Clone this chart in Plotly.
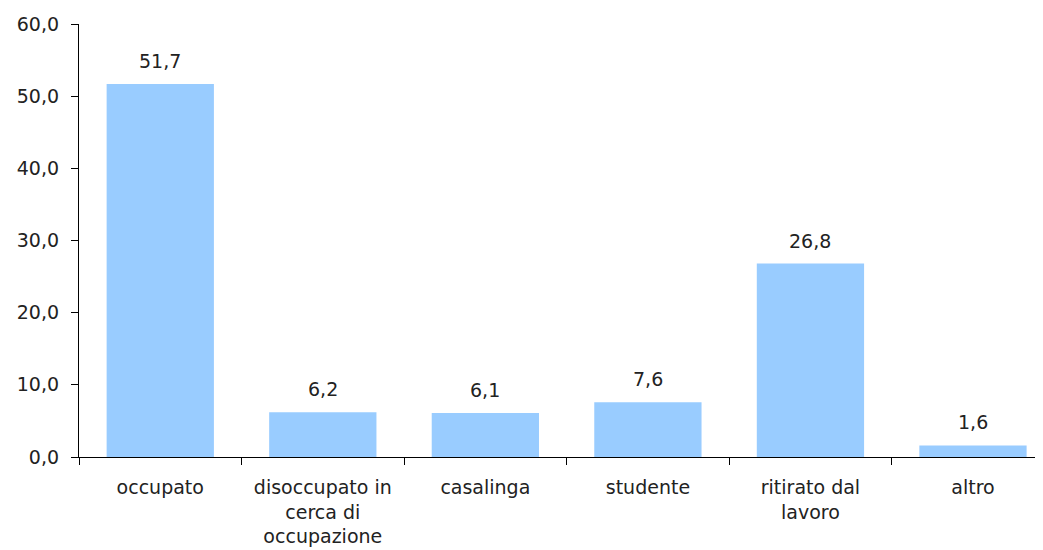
import plotly.graph_objects as go

categories = ["occupato", "disoccupato in<br>cerca di<br>occupazione", "casalinga",
              "studente", "ritirato dal<br>lavoro", "altro"]
values = [51.7, 6.2, 6.1, 7.6, 26.8, 1.6]
y_ticks = [0, 10, 20, 30, 40, 50, 60]

FONT = "DejaVu Sans, Verdana, sans-serif"
TXT = "#222222"
FS = 19

fig = go.Figure()
fig.add_trace(go.Bar(
    x=categories, y=values,
    marker=dict(color="#99CCFF", line=dict(width=0)),
    width=0.66,
    hoverinfo="skip",
))

for c, v in zip(categories, values):
    fig.add_annotation(x=c, y=v, text=f"{v:.1f}".replace(".", ","),
                       showarrow=False, yanchor="bottom", yshift=10,
                       font=dict(family=FONT, size=FS, color=TXT))

fig.update_layout(
    width=1043, height=550,
    margin=dict(l=71, r=0, t=16, b=101),
    paper_bgcolor="white", plot_bgcolor="white",
    separators=",.",
    showlegend=False,
    font=dict(family=FONT, size=FS, color=TXT),
    bargap=0.34,
)
fig.update_xaxes(
    type="category",
    range=[-0.5, 5.48],
    showline=True, linecolor="#000000", linewidth=1.3,
    ticks="outside", ticklen=7, tickcolor="#000000", tickwidth=1.3,
    tickson="boundaries",
    ticklabelstandoff=13,
    showgrid=False, zeroline=False,
    tickfont=dict(family=FONT, size=FS, color=TXT),
)
fig.update_yaxes(
    range=[0, 60],
    tickvals=y_ticks, tickformat=".1f",
    showline=True, linecolor="#000000", linewidth=1.3,
    ticks="outside", ticklen=7, tickcolor="#000000", tickwidth=1.3,
    ticklabelstandoff=8,
    showgrid=False, zeroline=False,
    tickfont=dict(family=FONT, size=FS, color=TXT),
)

fig.write_html("out.html")
